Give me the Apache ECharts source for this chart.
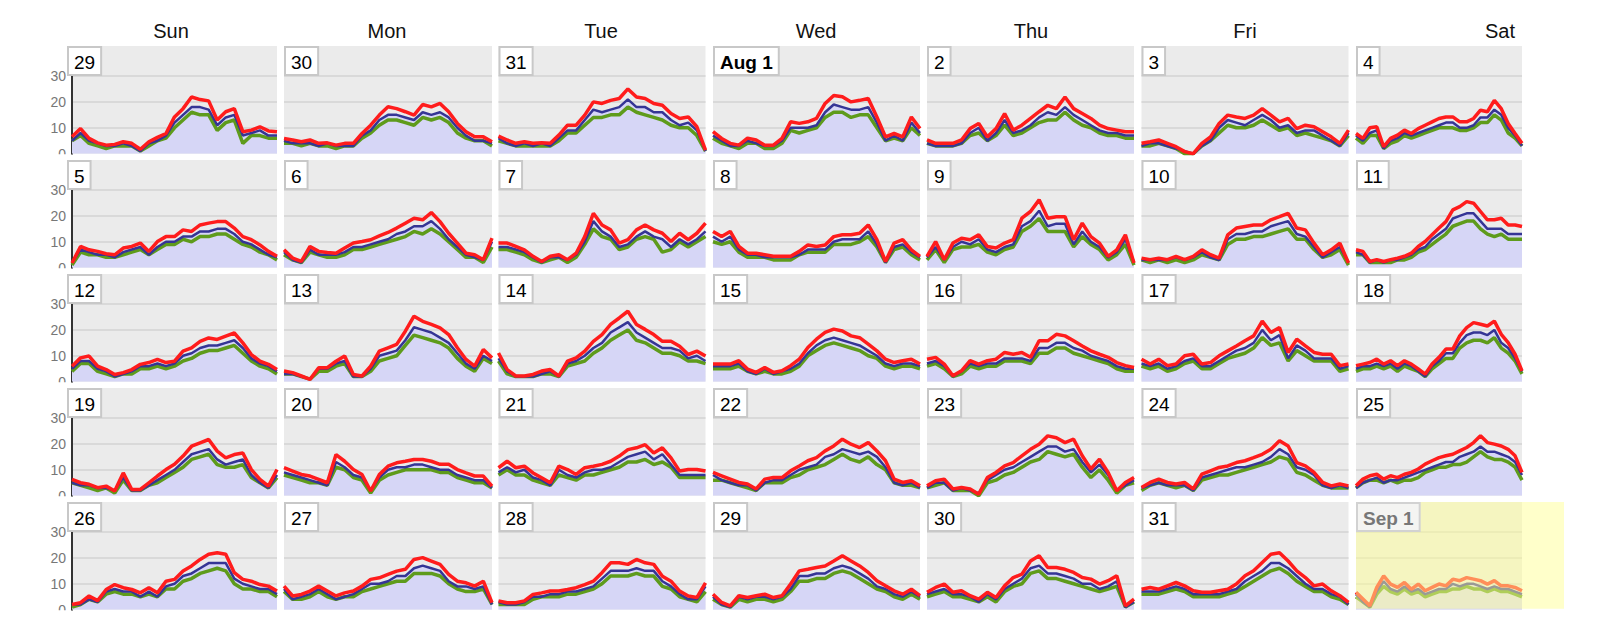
<!DOCTYPE html>
<html><head><meta charset="utf-8">
<script src="https://cdn.jsdelivr.net/npm/echarts@6/dist/echarts.min.js"></script>
<style>html,body{margin:0;padding:0;background:#fff}#c{width:1600px;height:630px}</style>
</head><body><div id="c"></div><script>
// ---------- data ----------
const weekdays = ['Sun','Mon','Tue','Wed','Thu','Fri','Sat'];
const dayLabels = ['29','30','31','Aug 1','2','3','4',
  '5','6','7','8','9','10','11',
  '12','13','14','15','16','17','18',
  '19','20','21','22','23','24','25',
  '26','27','28','29','30','31','Sep 1'];
const hours = [0,1,2,3,4,5,6,7,8,9,10,11,12,13,14,15,16,17,18,19,20,21,22,23,24];
const yTicks = [0,10,20,30];
const gust = [
[6.5,9.7,5.9,4.2,3.3,3.6,4.6,4.0,1.7,4.6,6.3,7.8,14.2,17.4,21.9,20.9,20.4,13.0,16.2,17.4,8.5,9.1,10.4,8.8,8.5],
[5.9,5.3,4.6,5.3,4.0,4.2,3.3,4.0,4.0,7.8,11.0,14.9,18.1,17.4,16.2,14.9,19.0,18.1,19.4,16.2,11.7,8.5,6.5,6.5,4.6],
[6.8,5.3,4.0,4.6,4.0,4.2,4.0,7.2,11.0,11.0,14.9,20.0,19.4,20.6,21.3,25.0,21.9,21.3,19.4,18.7,15.5,13.6,14.2,10.4,1.4],
[8.5,5.9,4.0,3.3,6.0,5.3,3.3,3.3,5.9,12.3,11.7,12.3,13.6,19.4,22.5,22.0,20.0,20.6,21.3,14.2,6.5,7.8,6.5,14.2,9.7],
[5.3,4.0,4.0,4.0,5.3,9.7,11.7,6.5,9.7,15.5,9.1,11.0,13.6,16.2,18.7,17.4,21.9,17.4,15.5,13.6,11.0,9.7,9.1,8.5,8.5],
[4.0,4.6,5.3,4.0,2.7,0.8,0.0,4.0,6.5,11.7,14.9,14.2,13.6,14.9,17.4,14.9,12.3,13.6,9.7,11.0,10.4,8.5,6.5,4.0,9.1],
[7.8,5.9,10.0,10.4,2.7,5.9,7.2,9.1,7.8,9.7,11.0,12.3,13.6,14.2,14.2,12.3,12.3,13.6,16.8,16.2,20.6,17.4,11.7,7.8,4.0],
[1.8,8.2,6.9,6.3,5.4,5.0,7.6,8.2,9.5,6.3,10.1,12.0,12.0,14.6,14.0,16.5,17.2,17.8,17.8,15.3,12.0,10.8,8.8,6.3,4.4],
[6.9,3.7,2.4,8.2,6.3,5.9,5.6,7.6,9.5,10.1,10.8,12.3,13.6,15.3,17.2,19.1,18.5,21.3,17.8,13.3,9.5,5.6,5.0,3.1,11.4],
[9.5,9.5,8.2,6.9,4.4,2.4,4.4,5.0,3.1,5.6,12.0,21.0,16.5,14.6,9.5,10.8,14.6,16.5,14.6,13.3,10.1,13.3,10.8,13.3,17.2],
[14.0,12.0,14.0,8.2,5.6,5.6,5.0,4.4,4.4,4.4,6.3,8.8,8.2,8.8,12.0,12.7,12.7,13.3,16.5,10.8,2.4,9.5,10.8,6.9,4.4],
[4.4,10.1,3.1,9.5,11.4,10.8,12.7,8.2,7.6,9.5,10.8,19.1,21.7,26.2,19.1,19.7,19.7,10.8,17.2,12.0,9.5,4.4,6.9,12.7,1.8],
[3.7,3.1,3.7,3.1,4.4,3.1,4.4,6.9,5.0,3.7,12.7,15.3,15.9,16.5,16.5,18.5,19.7,21.0,15.3,14.6,9.5,5.0,6.9,9.5,1.8],
[6.9,6.3,2.4,3.1,2.4,3.1,3.7,4.4,5.6,8.2,10.1,12.7,15.3,17.8,22.3,23.6,25.5,24.9,21.7,18.5,18.5,19.1,16.5,16.5,15.9],
[6.0,9.2,9.9,6.0,4.7,2.8,3.5,4.7,6.7,7.4,8.6,7.4,7.9,11.8,13.1,15.6,16.9,16.3,17.6,18.8,15.0,10.5,7.9,6.7,4.7],
[4.1,3.5,2.2,0.9,5.4,5.4,7.9,9.9,2.8,2.2,6.0,11.8,13.1,14.4,19.5,25.3,23.3,22.1,20.8,18.2,13.1,8.6,6.0,12.4,9.2],
[11.1,4.7,2.2,2.2,2.8,4.1,4.7,2.2,7.9,9.2,11.8,15.6,18.2,22.1,24.6,27.2,22.1,20.2,18.2,15.6,15.6,13.7,10.5,11.8,9.9],
[6.8,6.8,6.8,8.1,4.9,3.6,5.5,3.6,4.2,6.2,8.7,13.2,16.4,19.0,20.3,19.6,17.7,17.0,14.5,11.9,8.7,7.4,8.1,8.7,6.8],
[8.7,9.4,6.8,2.3,4.2,8.1,6.8,8.1,8.7,11.3,10.6,11.3,9.4,15.8,15.8,18.3,17.7,15.8,13.8,11.9,10.6,9.4,7.4,6.2,5.5],
[8.7,6.8,8.7,6.2,6.8,10.0,10.6,6.8,7.4,10.0,11.9,13.8,15.8,17.7,23.4,19.0,20.9,11.3,16.4,13.8,11.3,10.6,10.6,6.2,6.8],
[6.2,6.8,7.4,8.7,6.8,8.1,6.2,8.1,6.8,4.9,2.9,6.8,9.4,12.6,12.6,17.7,20.9,22.8,22.2,21.5,23.4,18.3,15.1,10.6,4.2],
[6.3,5.0,4.4,3.1,3.7,1.8,8.8,2.4,2.4,5.0,7.6,10.1,12.1,15.3,19.1,20.4,21.7,17.2,14.6,15.9,16.5,10.1,6.3,3.7,10.1],
[10.8,9.5,8.2,7.6,6.3,5.0,15.9,13.3,10.1,8.2,1.8,8.2,11.4,12.7,13.3,14.0,14.0,13.3,12.1,12.1,10.1,8.8,7.6,7.6,3.7],
[10.8,13.3,10.8,11.4,8.8,6.9,5.0,11.4,10.1,8.2,10.8,11.4,12.1,13.3,15.3,17.8,18.5,19.7,16.5,18.5,14.6,9.5,10.1,10.1,9.5],
[9.0,7.7,6.4,5.1,4.5,2.6,6.4,7.0,7.0,9.6,11.5,13.5,14.7,17.3,19.2,21.8,19.9,18.6,20.5,17.3,13.5,6.4,5.1,5.8,3.8],
[3.8,5.8,6.4,2.6,3.2,2.6,0.6,7.0,9.0,11.5,12.8,15.4,17.9,19.9,23.1,22.4,20.5,21.8,15.4,10.3,14.1,9.0,1.9,5.1,7.0],
[3.2,5.1,6.4,5.1,4.5,5.1,2.6,8.3,9.6,10.9,11.5,12.8,13.5,14.7,16.0,17.9,21.2,19.2,12.8,11.5,9.0,5.1,3.8,4.5,3.8],
[3.8,6.4,7.7,8.3,6.4,7.7,7.0,8.3,9.0,10.3,12.2,13.5,14.7,15.4,16.0,17.3,18.6,20.5,23.1,20.5,19.9,19.2,17.9,15.4,9.0],
[2.0,2.7,5.3,3.5,7.8,9.7,8.5,7.8,6.5,8.5,6.5,11.0,11.7,14.9,16.9,19.4,21.4,22.0,21.4,14.3,11.7,11.0,9.7,9.1,7.2],
[9.1,5.3,5.9,7.2,9.1,7.2,5.3,6.5,7.2,9.1,11.7,12.3,13.6,14.9,15.6,19.4,20.1,18.8,17.5,13.6,11.0,10.4,9.1,11.0,2.7],
[3.4,2.7,2.7,3.4,5.9,6.5,7.2,7.2,7.8,8.5,9.7,11.0,14.3,18.1,18.1,17.5,19.4,18.1,17.5,12.9,11.0,7.2,5.3,4.7,10.4],
[6.0,2.8,1.5,5.4,4.7,5.4,6.0,4.7,5.4,9.9,15.0,15.6,16.3,16.9,18.8,20.8,18.8,16.9,14.4,11.2,9.2,7.3,6.0,7.9,5.4],
[6.7,8.6,9.9,6.7,7.3,5.4,4.1,6.7,4.7,9.2,12.4,13.7,18.8,20.8,16.3,16.3,15.6,14.4,12.4,11.8,9.9,11.2,13.1,1.5,4.1],
[7.9,8.6,7.9,9.2,10.5,9.2,7.3,6.7,6.7,7.3,7.9,9.9,13.1,15.0,18.2,21.4,22.0,18.8,15.0,12.4,9.2,9.9,7.3,5.4,2.8],
[6.7,4.1,1.5,8.6,13.1,9.9,8.6,10.5,7.9,9.9,7.3,8.6,9.9,9.2,11.8,11.2,12.4,11.8,11.2,9.9,11.2,9.2,9.2,8.6,7.3]
];
const avg = [
[5,8,5,4,3,3,4,3,1,4,5,7,12,15,18,18,17,11,14,15,7,8,9,7,7],
[5,4,4,4,3,4,3,3,3,7,9,13,15,15,14,13,16,15,16,14,10,7,5,5,4],
[6,4,3,4,3,4,3,6,9,9,13,17,16,17,18,21,18,18,16,16,13,11,12,9,1],
[7,5,3,3,5,4,3,3,5,10,10,10,11,16,19,18,17,17,18,12,5,7,5,12,8],
[4,3,3,3,4,8,10,5,8,13,8,9,11,14,16,15,18,15,13,11,9,8,8,7,7],
[3,4,4,3,2,1,0,3,5,10,13,12,11,13,15,13,10,11,8,9,9,7,5,3,8],
[7,5,8,9,2,5,6,8,7,8,9,10,11,12,12,10,10,11,14,14,17,15,10,7,3],
[2,7,6,5,5,4,6,7,8,5,8,10,10,12,12,14,14,15,15,13,10,9,7,5,4],
[6,3,2,7,5,5,5,6,8,8,9,10,11,13,14,16,16,18,15,11,8,5,4,3,10],
[8,8,7,6,4,2,4,4,3,5,10,18,14,12,8,9,12,14,12,11,8,11,9,11,14],
[12,10,12,7,5,5,4,4,4,4,5,7,7,7,10,11,11,11,14,9,2,8,9,6,4],
[4,8,3,8,10,9,11,7,6,8,9,16,18,22,16,17,17,9,14,10,8,4,6,11,2],
[3,3,3,3,4,3,4,6,4,3,11,13,13,14,14,16,17,18,13,12,8,4,6,8,2],
[6,5,2,3,2,3,3,4,5,7,8,11,13,15,19,20,21,21,18,15,15,15,13,13,13],
[5,8,8,5,4,2,3,4,6,6,7,6,7,10,11,13,14,14,15,16,13,9,7,6,4],
[3,3,2,1,5,5,7,8,2,2,5,10,11,12,16,21,20,19,17,15,11,7,5,10,8],
[9,4,2,2,2,3,4,2,7,8,10,13,15,19,21,23,19,17,15,13,13,12,9,10,8],
[6,6,6,7,4,3,5,3,4,5,7,11,14,16,17,16,15,14,12,10,7,6,7,7,6],
[7,8,6,2,4,7,6,7,7,9,9,9,8,13,13,15,15,13,12,10,9,8,6,5,5],
[7,6,7,5,6,8,9,6,6,8,10,12,13,15,20,16,18,9,14,12,9,9,9,5,6],
[5,6,6,7,6,7,5,7,6,4,2,6,8,11,11,15,18,19,19,18,20,15,13,9,4],
[5,4,4,3,3,2,7,2,2,4,6,8,10,13,16,17,18,14,12,13,14,8,5,3,8],
[9,8,7,6,5,4,13,11,8,7,2,7,10,11,11,12,12,11,10,10,8,7,6,6,3],
[9,11,9,10,7,6,4,10,8,7,9,10,10,11,13,15,16,17,14,16,12,8,8,8,8],
[8,6,5,4,4,2,5,6,6,8,10,11,12,15,16,18,17,16,17,15,11,5,4,5,3],
[3,5,5,2,3,2,1,6,8,10,11,13,15,17,19,19,17,18,13,9,12,8,2,4,6],
[3,4,5,4,4,4,2,7,8,9,10,11,11,12,13,15,18,16,11,10,8,4,3,4,3],
[3,5,6,7,5,6,6,7,8,9,10,11,12,13,13,15,16,17,19,17,17,16,15,13,8],
[2,2,4,3,7,8,7,7,5,7,5,9,10,13,14,16,18,18,18,12,10,9,8,8,6],
[8,4,5,6,8,6,4,5,6,8,10,10,11,13,13,16,17,16,15,11,9,9,8,9,2],
[3,2,2,3,5,5,6,6,7,7,8,9,12,15,15,15,16,15,15,11,9,6,4,4,9],
[5,2,1,5,4,5,5,4,5,8,13,13,14,14,16,17,16,14,12,9,8,6,5,7,5],
[6,7,8,6,6,5,3,6,4,8,10,12,16,17,14,14,13,12,10,10,8,9,11,1,3],
[7,7,7,8,9,8,6,6,6,6,7,8,11,13,15,18,18,16,13,10,8,8,6,5,2],
[6,3,1,7,11,8,7,9,7,8,6,7,8,8,10,9,10,10,9,8,9,8,8,7,6]
];
const lull = [
[5,7,4,3,2,3,3,3,1,3,5,6,10,13,16,15,15,9,12,13,4,7,7,6,6],
[4,4,3,4,3,3,2,3,3,6,8,11,13,13,12,11,14,13,14,12,8,6,5,5,3],
[5,4,3,3,3,3,3,5,8,8,11,14,14,15,15,18,16,15,14,13,11,10,10,7,1],
[6,4,3,2,4,4,2,2,4,9,8,9,10,14,16,16,14,15,15,10,5,6,5,10,7],
[4,3,3,3,4,7,8,5,7,11,7,8,10,12,13,13,16,13,11,10,8,7,7,6,6],
[3,3,4,3,2,0,0,3,5,8,11,10,10,11,13,11,9,10,7,8,7,6,5,3,7],
[6,4,7,7,2,4,5,7,6,7,8,9,10,10,10,9,9,10,12,12,15,13,8,6,3],
[1,6,5,5,4,4,5,6,7,5,7,9,9,11,10,12,12,13,13,11,9,8,6,5,3],
[5,3,2,6,5,4,4,5,7,7,8,9,10,11,12,14,13,15,13,10,7,4,4,2,8],
[7,7,6,5,3,2,3,4,2,4,9,15,12,11,7,8,11,12,11,6,7,10,8,10,12],
[10,9,10,6,4,4,4,3,3,3,5,6,6,6,9,9,9,10,12,8,2,7,8,5,3],
[3,7,2,7,8,8,9,6,5,7,8,14,16,19,14,14,14,8,12,9,7,3,5,9,1],
[3,2,3,2,3,2,3,5,4,3,9,11,11,12,12,13,14,15,11,11,7,4,5,7,1],
[5,5,2,2,2,2,3,3,4,6,7,9,11,13,16,17,18,18,15,13,12,13,11,11,11],
[4,7,7,4,3,2,3,3,5,5,6,5,6,8,9,11,12,12,13,14,11,8,6,5,3],
[3,3,2,1,4,4,6,7,2,2,4,8,9,10,14,18,17,16,15,13,9,6,4,9,7],
[8,3,2,2,2,3,3,2,6,7,8,11,13,16,18,20,16,15,13,11,11,10,8,8,7],
[5,5,5,6,4,3,4,3,3,4,6,10,12,14,15,14,13,12,10,9,6,5,6,6,5],
[6,7,5,2,3,6,5,6,6,8,8,8,7,11,11,13,13,11,10,9,8,7,5,4,4],
[6,5,6,4,5,7,8,5,5,7,9,10,11,13,17,14,15,8,12,10,8,8,8,4,5],
[4,5,5,6,5,6,4,6,5,4,2,5,7,9,9,13,15,16,16,15,17,13,11,8,3],
[5,4,3,2,3,1,6,2,2,4,5,7,9,11,14,15,16,12,11,11,12,7,5,3,7],
[8,7,6,5,5,4,11,10,7,6,1,6,8,9,10,10,10,10,9,9,7,6,5,5,3],
[8,10,8,8,6,5,4,8,7,6,8,8,9,10,11,13,13,14,12,13,11,7,7,7,7],
[6,6,5,4,3,2,5,5,5,7,8,10,11,12,14,16,14,13,15,12,10,5,4,4,3],
[3,4,5,2,2,2,0,5,6,8,9,11,13,14,17,16,15,16,11,7,10,6,1,4,5],
[2,4,5,4,3,4,2,6,7,8,8,9,10,11,12,13,15,14,9,8,6,4,3,3,3],
[3,5,6,6,5,6,5,6,6,7,9,10,11,11,12,12,13,15,17,15,14,14,13,11,6],
[1,2,4,3,6,7,6,6,5,6,5,8,8,11,12,14,15,16,15,10,8,8,7,7,5],
[7,4,4,5,7,5,4,5,5,7,8,9,10,11,11,14,14,14,13,10,8,7,7,8,2],
[2,2,2,2,4,5,5,5,6,6,7,8,10,13,13,13,14,13,13,9,8,5,4,3,7],
[4,2,1,4,3,4,4,3,4,7,11,11,12,12,14,15,14,12,10,8,7,5,4,6,4],
[5,6,7,5,5,4,3,5,3,7,9,10,14,15,12,12,11,10,9,8,7,8,9,1,3],
[6,6,6,7,8,7,5,5,5,5,6,7,9,11,13,15,16,14,11,9,7,7,5,4,2],
[5,3,1,6,9,7,6,8,6,7,5,6,7,7,8,8,9,8,8,7,8,7,7,6,5]
];
const highlightIndex = 34; // Sep 1 (current day)

// ---------- layout ----------
const colLeft  = [72, 284, 498.5, 713, 927, 1141.5, 1356];
const colWidth = [205, 208, 207, 207, 207, 207, 166];
const boxLeft  = [67, 284, 498.5, 713, 927, 1141.5, 1356];
const headerX  = [171, 387, 601, 816, 1031, 1245, 1500];
const top0 = 46, pitch = 114, panelH = 107.7, yMax = 40, pxPerUnit = 2.59;
const gridH = yMax * pxPerUnit, gridOff = panelH - gridH;

const mctx = document.createElement('canvas').getContext('2d');
function textW(font, t){ mctx.font = font; return mctx.measureText(t).width; }

const grids = [], xAxes = [], yAxes = [], series = [], gfx = [];

weekdays.forEach((w, c) => {
  gfx.push({type:'text', x: headerX[c], y: 31, z: 10, silent: true,
    style: {text: w, font: '20px "Liberation Sans", Arial, sans-serif', fill: '#111',
      textAlign: 'center', textVerticalAlign: 'middle', align: 'center', verticalAlign: 'middle'}});
});

dayLabels.forEach((lab, i) => {
  const r = Math.floor(i / 7), c = i % 7;
  const T = top0 + r * pitch;
  const hi = i === highlightIndex;
  grids.push({left: colLeft[c], top: T + gridOff, width: colWidth[c], height: gridH, containLabel: false});
  xAxes.push({gridIndex: i, type: 'value', min: 0, max: 24, show: false});
  yAxes.push({gridIndex: i, type: 'value', min: 0, max: yMax, interval: 10, z: 2,
    axisLine: {show: c === 0, lineStyle: {color: '#333', width: 2}},
    axisTick: {show: false},
    axisLabel: {show: c === 0, color: '#777', fontSize: 14, margin: 6,
      fontFamily: '"Liberation Sans", Arial, sans-serif',
      formatter: v => (yTicks.indexOf(v) >= 0 ? String(v) : '')},
    splitLine: {show: true, showMinLine: false, showMaxLine: false,
      lineStyle: {color: '#d9d9d9', width: 2}}
  });
  // panel background
  gfx.push({type:'rect', z: 1, silent: true,
    shape: {x: colLeft[c], y: T, width: colWidth[c], height: panelH},
    style: {fill: '#ebebeb'}});

  const col = {g: '#ff1c1c', a: '#353595', l: '#5e9b1c', f: '#d6d6f6'};
  const pts = arr => hours.map((h, k) => [h, arr[k]]);
  series.push({type: 'line', xAxisIndex: i, yAxisIndex: i, z: 5, data: pts(avg[i]),
    showSymbol: false, silent: true, lineStyle: {width: 0, opacity: 0},
    areaStyle: {color: col.f, opacity: 1}});
  series.push({type: 'line', xAxisIndex: i, yAxisIndex: i, z: 5, data: pts(lull[i]),
    showSymbol: false, silent: true, lineStyle: {color: col.l, width: 3.5}});
  series.push({type: 'line', xAxisIndex: i, yAxisIndex: i, z: 5, data: pts(avg[i]),
    showSymbol: false, silent: true, lineStyle: {color: col.a, width: 2.5}});
  series.push({type: 'line', xAxisIndex: i, yAxisIndex: i, z: 5, data: pts(gust[i]),
    showSymbol: false, silent: true, lineStyle: {color: col.g, width: 3.5}});

  // day label box
  const bold = lab.indexOf(' ') >= 0;
  const font = (bold ? 'bold ' : '') + '19px "Liberation Sans", Arial, sans-serif';
  const tw = textW(font, lab);
  gfx.push({type: 'rect', z: 12, silent: true,
    shape: {x: boxLeft[c] + 1, y: T + 1, width: tw + 12, height: 28},
    style: {fill: hi ? '#f4f4f2' : '#ffffff', stroke: hi ? '#d2d2d2' : '#c8c8c8', lineWidth: 2}});
  gfx.push({type: 'text', z: 13, silent: true, x: boxLeft[c] + 7, y: T + 16,
    style: {text: lab, font: font, fill: hi ? '#777777' : '#000000',
      textAlign: 'left', textVerticalAlign: 'middle', align: 'left', verticalAlign: 'middle'}});

  // clip the y-axis "0" label below the panel
  if (c === 0) {
    gfx.push({type: 'rect', z: 11, silent: true,
      shape: {x: 20, y: T + panelH + 0.5, width: 51, height: pitch - panelH + 6},
      style: {fill: '#ffffff'}});
  }
});

// pale yellow highlight over the current day
{
  const r = Math.floor(highlightIndex / 7), c = highlightIndex % 7;
  const T = top0 + r * pitch;
  gfx.push({type: 'rect', z: 8, silent: true,
    shape: {x: colLeft[c], y: T, width: 208, height: panelH - 1},
    style: {fill: 'rgba(255,255,150,0.5)'}});
}

const chart = echarts.init(document.getElementById('c'), null, {renderer: 'svg', width: 1600, height: 630});
chart.setOption({
  animation: false,
  backgroundColor: '#ffffff',
  grid: grids, xAxis: xAxes, yAxis: yAxes, series: series,
  graphic: {elements: gfx}
});
</script></body></html>
